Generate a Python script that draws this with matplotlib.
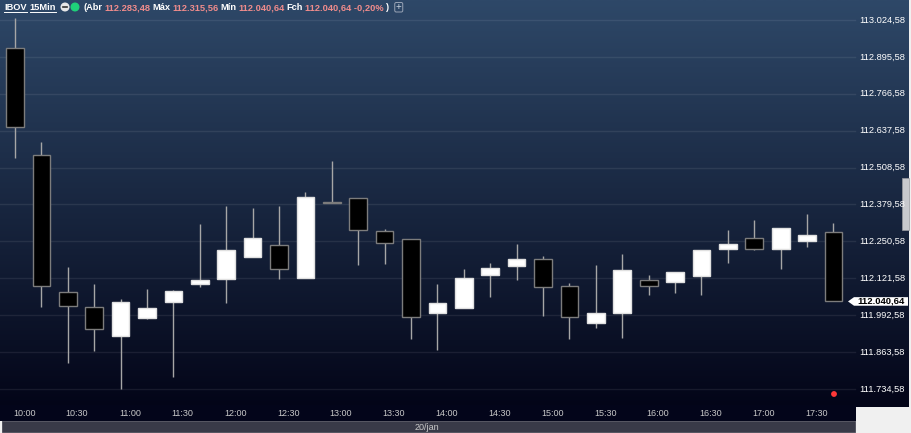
import numpy as np
import matplotlib.pyplot as plt
from matplotlib.transforms import blended_transform_factory
from matplotlib.patches import Rectangle, Polygon, Circle, FancyBboxPatch

plt.rcParams['font.family'] = ['Liberation Sans', 'DejaVu Sans']

# IBOV 15 min candles, 20/jan, 10:00 .. 17:45
opens = [112925.6, 112552.6, 112073.7, 112021.2, 111919.8, 111982.8, 112038.7, 112101.6,
         112119.1, 112196.0, 112238.0, 112122.6, 112388.3, 112403.3, 112286.9, 112259.0,
         112000.3, 112017.7, 112133.1, 112165.6, 112189.0, 112095.7, 111965.3, 112000.3,
         112115.6, 112108.6, 112130.7, 112225.0, 112262.5, 112225.0, 112252.0, 112283.48]
highs = [113030.5, 112598.1, 112161.1, 112101.6, 112049.2, 112084.2, 112080.7, 112311.4,
         112374.3, 112367.3, 112374.3, 112423.3, 112531.6, 112403.3, 112293.9, 112260.0,
         112101.6, 112154.1, 112175.1, 112241.5, 112199.5, 112105.1, 112168.1, 112206.5,
         112134.1, 112144.6, 112221.5, 112291.5, 112325.4, 112298.5, 112346.4, 112315.56]
lows = [112542.1, 112021.2, 111825.5, 111867.4, 111734.6, 111979.3, 111776.5, 112091.1,
        112035.2, 112196.0, 112119.1, 112122.6, 112386.0, 112169.1, 112172.6, 111909.4,
        111870.9, 112017.7, 112056.2, 112115.6, 111990.8, 111910.4, 111947.8, 111913.9,
        112063.2, 112071.2, 112063.2, 112176.1, 112220.5, 112155.1, 112231.0, 112040.64]
closes = [112649.5, 112094.6, 112024.7, 111944.3, 112038.7, 112017.7, 112077.2, 112115.6,
          112220.5, 112262.5, 112154.1, 112406.8, 112386.0, 112290.4, 112245.0, 111986.3,
          112036.3, 112122.6, 112157.6, 112189.0, 112091.1, 111986.3, 112001.3, 112151.6,
          112094.6, 112144.6, 112221.5, 112241.5, 112225.0, 112298.5, 112271.9, 112040.64]

time_labels = ['10:00', '10:30', '11:00', '11:30', '12:00', '12:30', '13:00', '13:30',
               '14:00', '14:30', '15:00', '15:30', '16:00', '16:30', '17:00', '17:30']
price_ticks = [111734.58, 111863.58, 111992.58, 112121.58, 112250.58, 112379.58,
               112508.58, 112637.58, 112766.58, 112895.58, 113024.58]
last_price = 112040.64
header = [('(Abr', 'white'), ('112.283,48', '#f08c8c'),
          ('Máx', 'white'), ('112.315,56', '#f08c8c'),
          ('Mín', 'white'), ('112.040,64', '#f08c8c'),
          ('Fch', 'white'), ('112.040,64 -0,20%', '#f08c8c'),
          (')', 'white')]


def br(v):
    s = f'{v:,.2f}'
    return s.replace(',', 'X').replace('.', ',').replace('X', '.')


fig = plt.figure(figsize=(9.11, 4.33), dpi=100)
fig.patch.set_facecolor('#f0f0f0')

# background in pixel coordinates
bg = fig.add_axes([0, 0, 1, 1])
grad = np.linspace(0, 1, 256)[:, None, None]
top = np.array([46, 72, 104]) / 255
bot = np.array([3, 5, 24]) / 255
img = top + (bot - top) * grad
bg.imshow(img, extent=(0, 909, 407, 0), aspect='auto', interpolation='bilinear')
bg.add_patch(Rectangle((0, 405), 856, 16, color='#03051a', lw=0))
bg.add_patch(Rectangle((2, 421), 853, 11, facecolor='#393a48', edgecolor='#4a4b58', lw=0.6))
bg.add_patch(Rectangle((902, 178), 7, 52, facecolor='#c8c9cd', edgecolor='#9a9ba0', lw=0.5))
bg.text(427, 427, '20/jan', color='#c8c8c8', fontsize=6.5, ha='center', va='center')
bg.set_xlim(0, 911)
bg.set_ylim(433, 0)
bg.axis('off')

# header, pieces laid out one after another
renderer = fig.canvas.get_renderer()
hy = 7.5
hfs = 6.7


def put(px, s, col):
    t = bg.text(px, hy, s, color=col, fontsize=hfs, fontweight='bold', va='center', ha='left')
    return px + t.get_window_extent(renderer).width


px = 4
for s in ['IBOV', '15Min']:
    end = put(px, s, 'white')
    bg.plot([px, end], [11.8, 11.8], color='white', lw=0.7)
    px = end + 3
px += 2
bg.add_patch(Circle((px + 4, 7), 3.8, color='#e8e8e8'))
bg.plot([px + 2, px + 6], [7, 7], color='#333333', lw=1.2)
px += 10
bg.add_patch(Circle((px + 4, 7), 3.8, color='#1fd17a'))
px += 12
for s, col in header:
    px = put(px, s, col) + 2
px += 4
bg.add_patch(FancyBboxPatch((px, 2.5), 8, 9.5, boxstyle='round,pad=0,rounding_size=1.5',
                            facecolor='none', edgecolor='#9aa4b6', lw=0.7))
bg.text(px + 4, 7.2, '+', color='#c8d0dc', fontsize=7, ha='center', va='center')
bg.add_patch(Circle((834, 394), 2.2, color='#ff3838'))

# candle axes
ax = fig.add_axes([0, 26 / 433, 909 / 911, 407 / 433])
ax.patch.set_alpha(0)
ax.axis('off')
ax.set_xlim(-0.568, 33.86)
ax.set_ylim(111671.6, 113094.5)

for t in price_ticks:
    ax.axhline(t, xmin=0, xmax=855 / 909, color='#ffffff', alpha=0.08, lw=1, zorder=0)

x = np.arange(len(opens))
ax.vlines(x, lows, highs, color='#a6a6a6', lw=1, zorder=1)
o = np.array(opens)
c = np.array(closes)
up = c >= o
bottoms = np.minimum(o, c)
heights = np.maximum(np.abs(c - o), 1.0)
fills = np.where(up, '#ffffff', '#000000')
edges = np.where(up, '#e0e0e0', '#7c7c7c')
ax.bar(x, heights, width=0.67, bottom=bottoms, color=fills, edgecolor=edges, linewidth=1, zorder=2)

# right price scale
tr = blended_transform_factory(bg.transData, ax.transData)
for t in price_ticks:
    ax.text(905, t, br(t), transform=tr, color='white', fontsize=6.7, ha='right', va='center')

# last price tag
h = 15
tag = Polygon([(848, last_price), (854, last_price + h), (908, last_price + h),
               (908, last_price - h), (854, last_price - h)], closed=True,
              facecolor='white', edgecolor='none', transform=tr, clip_on=False)
ax.add_patch(tag)
ax.text(881, last_price, br(last_price), transform=tr, color='black', fontsize=6.8,
        fontweight='bold', ha='center', va='center')

# time labels
tt = blended_transform_factory(ax.transData, bg.transData)
for i, lab in enumerate(time_labels):
    ax.text(2 * i + 0.35, 413, lab, transform=tt, color='#c8c8c8', fontsize=6.5,
            ha='center', va='center', clip_on=False)

fig.savefig('out.png', dpi=100, facecolor=fig.get_facecolor())
